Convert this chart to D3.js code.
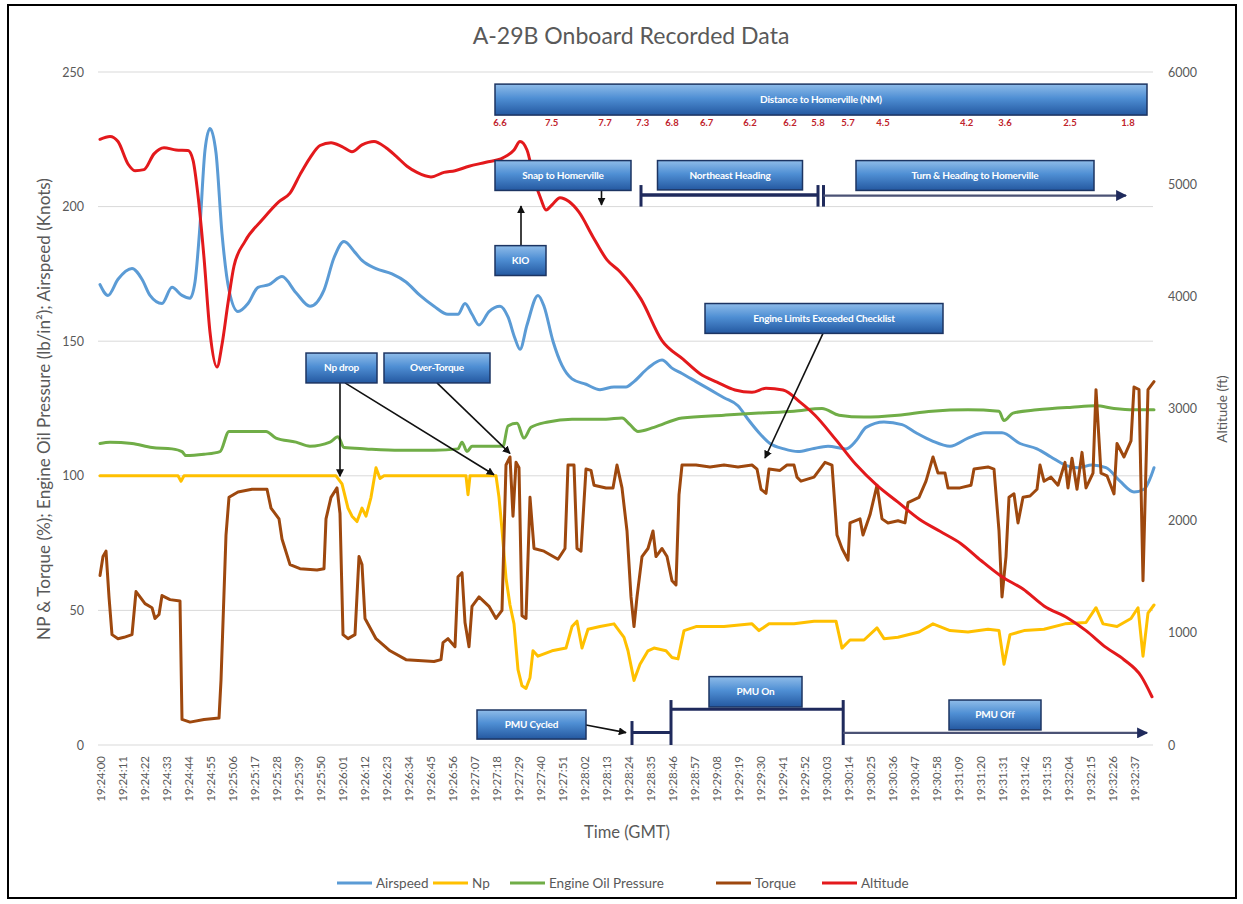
<!DOCTYPE html>
<html><head><meta charset="utf-8">
<script src="https://cdn.jsdelivr.net/npm/d3@7"></script>
<style>body{margin:0;background:#fff;} svg{display:block;font-family:Lato,'Open Sans',sans-serif;}</style>
</head><body><svg id="chart" width="1243" height="904"></svg>
<script>
// ---------- DATA ----------
const timeLabels = ["19:24:00","19:24:11","19:24:22","19:24:33","19:24:44","19:24:55","19:25:06","19:25:17","19:25:28","19:25:39","19:25:50","19:26:01","19:26:12","19:26:23","19:26:34","19:26:45","19:26:56","19:27:07","19:27:18","19:27:29","19:27:40","19:27:51","19:28:02","19:28:13","19:28:24","19:28:35","19:28:46","19:28:57","19:29:08","19:29:19","19:29:30","19:29:41","19:29:52","19:30:03","19:30:14","19:30:25","19:30:36","19:30:47","19:30:58","19:31:09","19:31:20","19:31:31","19:31:42","19:31:53","19:32:04","19:32:15","19:32:26","19:32:37"];
const leftTicks = [0,50,100,150,200,250];
const rightTicks = [0,1000,2000,3000,4000,5000,6000];
// [seconds after 19:24:00, value]
const airspeed = [[0,171],[4,167],[9,173],[16,177],[21,173],[25,167],[31,164],[36,170],[41,167],[45,166],[47.5,172],[50,193],[52.5,221],[55,229],[58,220],[61,190],[64.5,169],[69,161],[74,164],[79,170],[84.5,171],[91,174],[98,168],[105,163],[112,169],[117,181],[122,187],[127.5,183],[131,180],[138,177],[146,175],[153,172],[160,167],[167,163],[174,160],[179,160],[182.5,164],[186,160],[189.5,156],[194.5,161],[200,163],[204,159],[207.5,151],[210,147],[213.5,156],[219,167],[222,163],[226.5,150],[231,141],[236,136],[243,134],[250,132],[257,133],[263,133],[267,135],[274,140],[281,143],[286,140],[291,138],[298,135],[305,132],[312,129],[319,126],[324,121],[329.5,116],[335,112],[342,110],[349,109],[356,110],[364,111],[373,110],[378,113],[383,118],[392,120],[401,119],[408,116],[416,113],[425,111],[434,114],[442.5,116],[451,116],[460,112],[468.5,110],[475.5,107],[482.5,104],[489,103],[496,104],[503,103],[510,98],[517,94],[522,95],[527,103]];
const np = [[0,100],[39,100],[40.5,98],[42,100],[118,100],[121,97],[124,88],[126,85],[128.5,83],[131,88],[133,85],[135.5,92],[138,103],[140,99],[142,100],[183,100],[184,93],[185,100],[198,100],[199.5,92],[201,80],[203,62],[205,52],[207,45],[209,28],[211,22],[213,21],[215,25],[216.5,35],[219,33],[226,35],[233,36],[236,44],[238.5,46],[241,36],[244,43],[250,44],[257,45],[262,40],[264,35],[267,24],[270,30],[274,35],[277,36],[283,35],[286,32.5],[289,32],[292,42.5],[298,44],[312,44],[326,45],[329.5,42.5],[334.5,45],[347,45],[357,46],[368,46],[371,36],[375,39],[382,39],[388.5,43.5],[392,39.5],[399,40],[409.5,42],[416.5,45],[425,42.5],[434,42],[444,43],[449.5,42.5],[452,30],[455,41],[462,42.5],[472,43],[482.5,45],[493,45.5],[498,51],[501.5,45],[508.5,44],[515.5,47],[519,51],[521.5,33],[524,49],[527,52]];
const oilPressure = [[0,112],[5,112.5],[16,112],[26,110.5],[36,110],[41,109],[43,107.5],[52,108],[60,109],[64.5,116.5],[72,116.5],[83,116.5],[88,114],[98,112.5],[105,111],[115,112.5],[119,114.5],[122,110.5],[133,110],[150,109.5],[167,109.5],[179,110],[181,112.5],[183.5,109],[186,111],[201.5,111],[204,118.5],[208.5,119.5],[212,114],[215.5,118],[224,120],[236,121],[253,121],[261,121.5],[265,119],[269,116.5],[277,118],[291,121.5],[312,122.5],[329.5,123.3],[347,124],[361,125],[369.5,122.5],[382,121.8],[399,122.5],[416,124],[434,124.5],[449.5,124],[452,120.5],[456.5,123.3],[468.5,124.5],[486,125.5],[498,126],[507,125],[517,124.5],[527,124.5]];
const torque = [[0,63],[1.5,70],[3,72],[4.5,55],[6,41],[9,39.5],[12,40],[16,41],[18,57],[20,55],[22.5,52.5],[26,51],[27.5,47],[29.5,48.5],[31,55.5],[35,54],[40,53.5],[41,9.5],[45,8.5],[52,9.5],[59.5,10],[60.5,24],[63,78],[64.5,92],[69,94],[76,95],[83.5,95],[85.5,88],[87,86.5],[89.5,84],[91,76.5],[95,67],[100,65.5],[108.5,65],[112,65.5],[113,84],[115.5,92],[118.5,95.5],[120,86],[121.5,41],[124,39.5],[127.5,41],[129.5,70],[131,67],[132.5,47],[138,39.5],[145,35],[153,31.7],[167,31],[170.5,31.7],[171.5,38],[174,39.5],[177.5,36.5],[179,62.5],[181,64],[182.5,45.5],[184.5,36.5],[186,51.5],[189.5,55],[194.5,51.5],[198,47],[201,50],[203,104],[205,107],[206.5,85],[208,105],[209.5,103],[211,48],[213,47],[215,92],[217,73],[222,72],[229,69],[232.5,73],[234,104],[237,104],[238.5,73],[240.5,72],[243,102.5],[245.5,102],[247,96.5],[253,95.5],[256.5,95.5],[258.5,104],[261,95.5],[263.5,79.5],[265.5,55],[267,44],[268.5,55],[271,70],[274,73],[276.5,79.5],[278,70],[281,73],[283.5,70],[286,61],[288,59.5],[289.5,93],[291,104],[298,104],[305,103.3],[312,104],[319,103.3],[326,104],[328.5,102.5],[330.5,95],[333,93.5],[334.5,102.5],[340,102],[343.5,104],[347,104],[348.5,99.5],[350.5,98],[357,99.5],[362.5,105],[366,104],[368.5,78],[371,73],[374,68.7],[375,82.5],[380,84],[381.5,78],[385,85.5],[388.5,96.5],[391,84],[394,82.5],[399,83.3],[402.5,82.5],[404,90],[409.5,92],[413,98],[416.5,107],[419,101],[422.5,101],[424,95.5],[430,95.5],[435.5,96.5],[437,102.5],[444,103.3],[447,102.5],[449.5,79.5],[451,55],[453,70],[454.5,92],[457,93.3],[459,82.5],[461.5,92],[465,92.5],[468.5,95],[470,104],[472,98],[475.5,99.5],[479,96.5],[482.5,105],[484,95.5],[486,106.5],[488.5,95],[491,108.7],[493,95.5],[496.5,101],[498,132],[500.5,101],[503.5,100],[507,93.3],[508.5,112],[512,107],[515.5,113],[517,133],[519.5,132],[521.5,61],[524,132],[527,135]];
const altitude = [[0,5400],[5,5425],[9,5380],[14,5180],[17.5,5120],[22,5130],[27,5270],[32,5325],[38,5305],[44,5300],[46.5,5215],[49,4900],[52,4345],[55,3680],[58.5,3370],[61,3570],[64,3940],[67,4270],[72.5,4490],[81,4680],[89.5,4845],[95,4920],[100,5085],[105,5235],[110,5345],[115.5,5370],[121,5335],[126,5290],[131,5350],[137,5380],[143,5325],[148,5250],[153.5,5160],[158.5,5105],[165.5,5065],[172,5105],[177.5,5120],[184.5,5160],[193,5195],[201.5,5235],[207,5305],[210,5380],[213.5,5305],[217,5050],[220.5,4865],[223,4770],[226.5,4825],[230,4880],[234.5,4845],[239.5,4750],[246.5,4530],[253.5,4325],[260,4220],[270.5,3975],[281,3605],[291.5,3440],[300,3310],[308.5,3235],[317.5,3165],[326,3145],[333,3180],[341.5,3165],[350.5,3050],[357.5,2940],[368,2720],[378,2500],[388.5,2315],[399,2165],[409.5,2015],[420,1905],[430.5,1795],[440.5,1645],[451,1500],[461.5,1390],[472,1240],[484,1130],[493,1020],[503,870],[512,760],[520.5,615],[526,430]];
// distance to Homerville (NM) marks
const distTimes = [200,225.8,252.5,271.3,286,303.3,325,345,359,374,391.5,433.3,452.5,485,514];
const distValues = ["6.6","7.5","7.7","7.3","6.8","6.7","6.2","6.2","5.8","5.7","4.5","4.2","3.6","2.5","1.8"];
// annotation boxes: [t0, t1, vTop, vBottom, label]  (time in s, left-axis units)
const boxes = [
  [197.5,523.5,245.5,234.0,"Distance to Homerville (NM)"],
  [197.5,265.5,217.1,206.0,"Snap to Homerville"],
  [197.5,223,185.5,174.4,"KIO"],
  [278.75,351.25,217.1,206.2,"Northeast Heading"],
  [378,497,217.1,206.0,"Turn & Heading to Homerville"],
  [103,138.5,145.6,134.5,"Np drop"],
  [142,195,145.6,134.5,"Over-Torque"],
  [302.5,421.5,164,152.9,"Engine Limits Exceeded Checklist"],
  [188.5,243,13,2.2,"PMU Cycled"],
  [304.5,351,25.4,14.1,"PMU On"],
  [424.5,470.5,16.7,5.6,"PMU Off"]
];
// callout arrows: [t0, v0, t1, v1]
const callouts = [
  [250.75,205.8,250.75,200.6],
  [210.5,185.7,210.5,200.2],
  [120,134.5,120,99.8],
  [122.5,134.5,197,100.4],
  [168.5,134.5,205,108.3],
  [361.5,152.9,332.5,106.6],
  [243,7.4,263,4.6]
];

const series = [
  {name:"Airspeed", data:airspeed, color:"#5b9bd5", axis:"L", curve:d3.curveMonotoneX},
  {name:"Np", data:np, color:"#ffc000", axis:"L", curve:d3.curveLinear},
  {name:"Engine Oil Pressure", data:oilPressure, color:"#70ad47", axis:"L", curve:d3.curveMonotoneX},
  {name:"Torque", data:torque, color:"#9e480e", axis:"L", curve:d3.curveLinear},
  {name:"Altitude", data:altitude, color:"#e3191c", axis:"R", curve:d3.curveMonotoneX}
];

// ---------- CHART ----------
const svg = d3.select('#chart');
const x = d3.scaleLinear().domain([0,527]).range([100,1154]);
const yL = d3.scaleLinear().domain([0,250]).range([745,72]);
const yR = d3.scaleLinear().domain([0,6000]).range([745,72]);
const grey = "#595959";

svg.append('rect').attr('x',8).attr('y',5).attr('width',1228).attr('height',893)
  .attr('fill','#fff').attr('stroke','#000').attr('stroke-width',2);

const defs = svg.append('defs');
const g1 = defs.append('linearGradient').attr('id','boxGrad').attr('x1',0).attr('y1',0).attr('x2',0).attr('y2',1);
g1.append('stop').attr('offset','0%').attr('stop-color','#8fbce9');
g1.append('stop').attr('offset','45%').attr('stop-color','#4f8fd4');
g1.append('stop').attr('offset','100%').attr('stop-color','#2458a0');
function marker(id,color,size){
  defs.append('marker').attr('id',id).attr('viewBox','0 0 10 10').attr('refX',9).attr('refY',5)
    .attr('markerWidth',size).attr('markerHeight',size).attr('orient','auto').attr('markerUnits','userSpaceOnUse')
    .append('path').attr('d','M0,0L10,5L0,10z').attr('fill',color);
}
marker('arrBlack','#111',8);
marker('arrNavy','#1f2a5c',11);

// gridlines
svg.append('g').selectAll('line').data(leftTicks).join('line')
  .attr('x1',98).attr('x2',1153).attr('y1',d=>yL(d)).attr('y2',d=>yL(d))
  .attr('stroke','#d9d9d9').attr('stroke-width',1);

// axes
const axL = svg.append('g').attr('transform','translate(84,0)')
  .call(d3.axisLeft(yL).tickValues(leftTicks).tickSize(0).tickPadding(0));
const axR = svg.append('g').attr('transform','translate(1168,0)')
  .call(d3.axisRight(yR).tickValues(rightTicks).tickFormat(d3.format('d')).tickSize(0).tickPadding(0));
[axL,axR].forEach(a=>{a.select('.domain').remove();
  a.selectAll('text').attr('fill',grey).attr('font-size',12.5).attr('font-family','Lato,sans-serif');});

const tickSecs = timeLabels.map(l=>{const p=l.split(':').map(Number);return (p[0]-19)*3600+(p[1]-24)*60+p[2];});
const axB = svg.append('g').attr('transform','translate(0,745)')
  .call(d3.axisBottom(x).tickValues(tickSecs).tickFormat((d,i)=>timeLabels[i]).tickSize(0));
axB.select('.domain').remove();
axB.selectAll('text').attr('fill',grey).attr('font-size',11.5).attr('font-family','Lato,sans-serif')
  .attr('text-anchor','end').attr('transform','translate(0,11) rotate(-90)').attr('x',0).attr('y',0).attr('dy','0.35em');

// series
series.forEach(s=>{
  const y = s.axis==='L'?yL:yR;
  svg.append('path').datum(s.data)
    .attr('d',d3.line().x(d=>x(d[0])).y(d=>y(d[1])).curve(s.curve))
    .attr('fill','none').attr('stroke',s.color).attr('stroke-width',3)
    .attr('stroke-linejoin','round').attr('stroke-linecap','round');
});

// brackets / timelines
const navy = '#1f2a5c', slate = '#4b5275';
const ann = svg.append('g');
function seg(t0,v0,t1,v1,color,w,mark){
  const l = ann.append('line').attr('x1',x(t0)).attr('y1',yL(v0)).attr('x2',x(t1)).attr('y2',yL(v1))
    .attr('stroke',color).attr('stroke-width',w);
  if(mark) l.attr('marker-end',`url(#${mark})`);
}
seg(270.5,204.3,359,204.3,navy,3.5);
seg(270.5,208,270.5,200,navy,3);
seg(359,208,359,200,navy,3);
seg(361.75,208,361.75,200,navy,3);
seg(361.75,204.1,513,204.1,slate,2.2,'arrNavy');
seg(266,4.6,285.5,4.6,navy,3);
seg(266,8.9,266,0,navy,3);
seg(285.5,16.7,285.5,0,navy,3);
seg(285.5,13.3,371.6,13.3,navy,3);
seg(371.6,16.7,371.6,0,navy,3);
seg(371.6,4.5,523.5,4.5,slate,2.2,'arrNavy');

callouts.forEach(c=>seg(c[0],c[1],c[2],c[3],'#111',1.6,'arrBlack'));

boxes.forEach(b=>{
  const x0=x(b[0]), x1=x(b[1]), y0=yL(b[2]), y1=yL(b[3]);
  ann.append('rect').attr('x',x0).attr('y',y0).attr('width',x1-x0).attr('height',y1-y0)
    .attr('fill','url(#boxGrad)').attr('stroke','#1c3462').attr('stroke-width',1.5);
  ann.append('text').attr('x',(x0+x1)/2).attr('y',(y0+y1)/2).attr('dy','0.35em')
    .attr('text-anchor','middle').attr('fill','#fff').attr('font-weight','bold')
    .attr('font-size',10).attr('letter-spacing',-0.2).text(b[4]);
});
ann.selectAll('text.dist').data(distTimes).join('text').attr('class','dist')
  .attr('x',d=>x(d)).attr('y',yL(231.1)).attr('dy','0.35em').attr('text-anchor','middle')
  .attr('fill','#c0232b').attr('font-weight','bold').attr('font-size',9.5)
  .text((d,i)=>distValues[i]);

function fit(sel,target){const w=sel.node().getComputedTextLength();const fs=parseFloat(sel.attr('font-size'));sel.attr('font-size',fs*target/w);}
const title = svg.append('text').attr('x',631).attr('y',36).attr('dy','0.35em').attr('text-anchor','middle')
  .attr('fill',grey).attr('font-size',19).text('A-29B Onboard Recorded Data');
fit(title,317);
const lt = svg.append('text').attr('transform','translate(44,409) rotate(-90)').attr('text-anchor','middle').attr('dy','0.35em')
  .attr('fill',grey).attr('font-size',13).text('NP & Torque (%); Engine Oil Pressure (lb/in²); Airspeed (Knots)');
fit(lt,462);
svg.append('text').attr('transform','translate(1222,409) rotate(-90)').attr('text-anchor','middle').attr('dy','0.35em')
  .attr('fill',grey).attr('font-size',13.5).text('Altitude (ft)');
const xt = svg.append('text').attr('x',627).attr('y',832).attr('dy','0.35em').attr('text-anchor','middle')
  .attr('fill',grey).attr('font-size',13.5).text('Time (GMT)');
fit(xt,86);

const legX = [337,433,510,716,822];
const leg = svg.append('g');
series.forEach((s,i)=>{
  leg.append('line').attr('x1',legX[i]).attr('x2',legX[i]+35).attr('y1',883).attr('y2',883)
    .attr('stroke',s.color).attr('stroke-width',3);
  leg.append('text').attr('x',legX[i]+39).attr('y',883).attr('dy','0.35em').attr('fill',grey)
    .attr('font-size',13.5).text(s.name);
});
</script></body></html>
